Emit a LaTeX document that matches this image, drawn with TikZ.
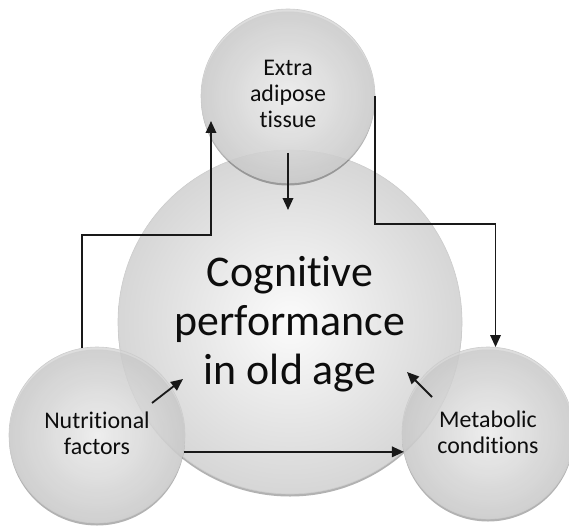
\documentclass[tikz,border=0pt]{standalone}
\usepackage{fontspec}
\setmainfont{Carlito}[Ligatures=NoCommon]
\usetikzlibrary{arrows.meta, shadows}
\begin{document}
\begin{tikzpicture}[x=1bp, y=-1bp,
   bubble/.style={circle, draw=gray!40, line width=0.6bp, inner color=gray!3, outer color=gray!32, inner sep=0pt,
      drop shadow={shadow xshift=0bp, shadow yshift=-2.5bp, opacity=0.3, fill=black}},
   small/.style={font=\fontsize{24}{26.5}\selectfont, text=black!95, align=center},
   link/.style={-{Triangle[length=12bp, width=10.5bp]}, line width=1.8bp, black!90}]
   \useasboundingbox (0,0) rectangle (569,526);

   \node[bubble, minimum size=344bp, label={[name=main-text, align=center, text=black!95, font=\fontsize{44}{49}\selectfont, yshift=-2.5bp]center:Cognitive\\performance\\in old age}] (main) at (290,322) {};

   \begin{scope}[fill opacity=0.82, text opacity=1]
      \node[bubble, minimum size=174bp, label={[name=adipose-text, small, yshift=2bp]center:Extra\\adipose\\tissue}] (adipose) at (288,96) {};
      \node[bubble, minimum size=176bp, label={[name=nut-text, small, yshift=2bp]center:Nutritional\\factors}] (nut) at (97,435) {};
      \node[bubble, minimum size=172bp, label={[name=met-text, small, yshift=1bp]center:Metabolic\\conditions}] (met) at (488,433) {};
   \end{scope}

   \begin{scope}
      \draw[link] (nut.100) -- ++(0,-113) -| ([shift={(-77,25)}]adipose.center);
      \draw[link] (adipose.east) -- ++(0,128) -| (met.85);
      \draw[link] ([yshift=-57bp]adipose.center) -- ++(0,57);
      \draw[link] ([shift={(55,-32)}]nut.center) -- ++(31,-24);
      \draw[link] ([shift={(-56,-36)}]met.center) -- ++(-25,-25);
      \draw[link] (nut.-11) -- (nut.-11 -| met.193);
   \end{scope}
\end{tikzpicture}
\end{document}
